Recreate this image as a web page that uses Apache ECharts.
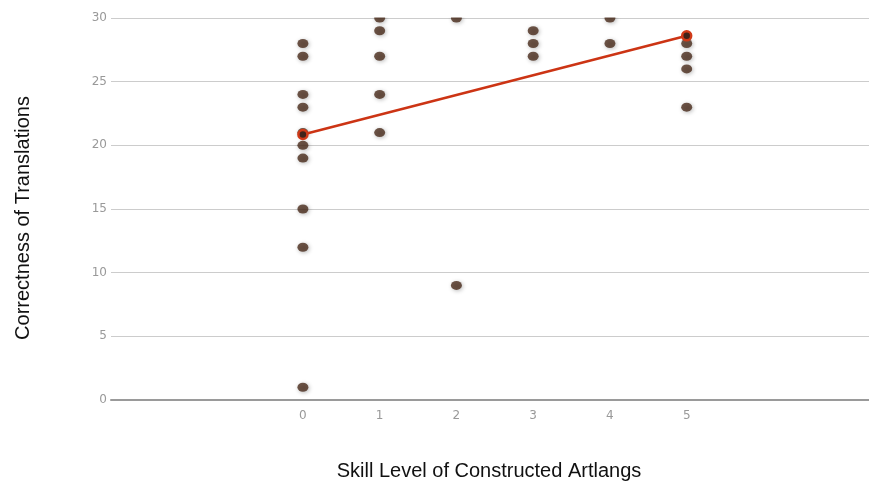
<!DOCTYPE html>
<html>
<head>
<meta charset="utf-8">
<script src="https://cdn.jsdelivr.net/npm/echarts@6/dist/echarts.min.js"></script>
<style>
  html, body { margin: 0; padding: 0; background: #fff; }
  #chart { width: 869px; height: 489px; }
</style>
</head>
<body>
<div id="chart"></div>
<script>
// Skill level (x) vs translation score (y), one entry per respondent
const skillLevels = [0, 0, 0, 0, 0, 0, 0, 0, 0, 0,
                     1, 1, 1, 1, 1,
                     2, 2,
                     3, 3, 3,
                     4, 4,
                     5, 5, 5, 5];
const scores      = [28, 27, 24, 23, 21, 20, 19, 15, 12, 1,
                     30, 29, 27, 24, 21,
                     30, 9,
                     29, 28, 27,
                     30, 28,
                     28, 27, 26, 23];

// Linear trend endpoints (skill, score)
const trendX = [0, 5];
const trendY = [20.85, 28.6];

const xTicks = [0, 1, 2, 3, 4, 5];
const yTicks = [0, 5, 10, 15, 20, 25, 30];

const points = skillLevels.map((x, i) => [x, scores[i]]);
const trend = trendX.map((x, i) => [x, trendY[i]]);

const chart = echarts.init(document.getElementById('chart'));
chart.setOption({
  animation: false,
  backgroundColor: '#ffffff',
  grid: { left: 111, top: 18, right: 0, bottom: 89, containLabel: false },
  xAxis: {
    type: 'value',
    min: -2.5,
    max: 7.375,
    interval: 0.5,
    axisLine: { show: true, onZero: false, lineStyle: { color: '#9a9a9a', width: 2 } },
    axisTick: { show: false },
    splitLine: { show: false },
    axisLabel: {
      color: '#999999',
      fontFamily: 'DejaVu Sans',
      fontSize: 12,
      margin: 10,
      showMaxLabel: false,
      formatter: v => (xTicks.indexOf(v) >= 0 ? String(v) : '')
    }
  },
  yAxis: {
    type: 'value',
    min: 0,
    max: 30,
    interval: 5,
    axisLine: { show: false },
    axisTick: { show: false },
    splitLine: { show: true, lineStyle: { color: '#cccccc', width: 1 } },
    axisLabel: {
      color: '#999999',
      fontFamily: 'DejaVu Sans',
      fontSize: 12,
      margin: 4,
      formatter: v => (yTicks.indexOf(v) >= 0 ? String(v) : '')
    }
  },
  series: [
    {
      type: 'scatter',
      data: points,
      symbol: 'circle',
      symbolSize: [11, 9],
      z: 2,
      itemStyle: {
        color: '#4a2c1c',
        shadowBlur: 4,
        shadowColor: 'rgba(0,0,0,0.35)',
        shadowOffsetX: 1,
        shadowOffsetY: 1
      }
    },
    {
      type: 'line',
      data: trend,
      z: 3,
      symbol: 'circle',
      symbolSize: 9,
      showSymbol: true,
      lineStyle: { color: '#cc3414', width: 2.5 },
      itemStyle: { color: '#40241a', borderColor: '#d03a18', borderWidth: 2.5 }
    }
  ],
  graphic: [
    {
      // hides the part of the marks that rises above the plotting area
      type: 'rect',
      left: 111, top: 0,
      shape: { x: 0, y: 0, width: 758, height: 17.5 },
      style: { fill: '#ffffff' },
      z: 100
    },
    {
      type: 'text',
      x: 489, y: 471,
      style: {
        text: 'Skill Level of Constructed Artlangs',
        font: '20px "Liberation Sans", Arial, sans-serif',
        fill: '#111111',
        textAlign: 'center',
        textVerticalAlign: 'middle'
      }
    },
    {
      type: 'text',
      x: 23, y: 218,
      rotation: Math.PI / 2,
      style: {
        text: 'Correctness of Translations',
        font: '20px "Liberation Sans", Arial, sans-serif',
        fill: '#111111',
        textAlign: 'center',
        textVerticalAlign: 'middle'
      }
    }
  ]
});
</script>
</body>
</html>
